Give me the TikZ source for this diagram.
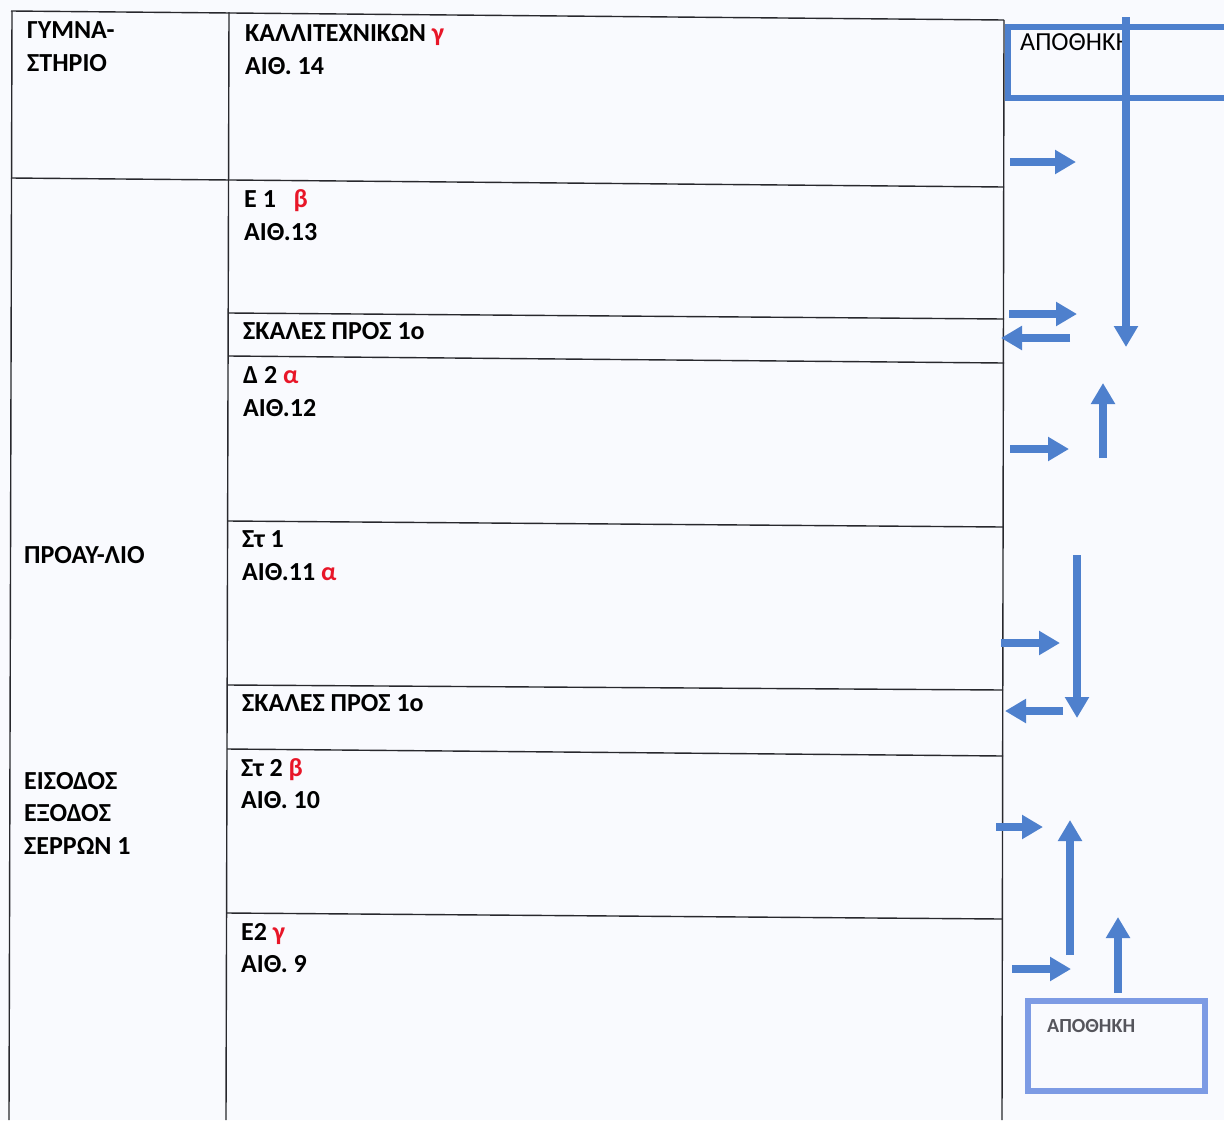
\documentclass[tikz,border=0pt]{standalone}
\usepackage{fontspec}
\setmainfont{Carlito}
\usetikzlibrary{arrows.meta}
\definecolor{arr}{RGB}{78,128,205}
\definecolor{boxb}{RGB}{125,155,228}
\definecolor{redg}{RGB}{232,22,40}
\definecolor{paper}{RGB}{249,250,254}
\definecolor{ink}{RGB}{40,40,45}
\definecolor{grayt}{RGB}{85,85,92}
\begin{document}
\begin{tikzpicture}[x=1pt,y=-1pt,
  grid/.style={draw=ink,line width=1.4pt},
  lbl/.style={anchor=base west,inner sep=0pt,font=\fontsize{26}{30}\selectfont\bfseries,text=black},
  blk/.style={draw=arr,line width=7.5pt,-{Triangle[width=23pt,length=21pt]}},
]
\fill[paper] (0,0) rectangle (1224,1120);
\useasboundingbox (0,0) rectangle (1224,1120);

% table grid
\draw[grid] (11,11) -- (1004,20);
\draw[grid] (12,11) -- (9,1120);
\draw[grid] (229,12) -- (226,1120);
\draw[grid] (1004,20) -- (1002,1120);
\draw[grid] (11,178) -- (1004,187);
\draw[grid] (229,313) -- (1004,319);
\draw[grid] (229,356) -- (1004,363);
\draw[grid] (228,521) -- (1003,527);
\draw[grid] (228,685) -- (1003,690);
\draw[grid] (227,749) -- (1003,756);
\draw[grid] (227,913) -- (1002,919);

% labels
\node[lbl] (g1) at (27,38) {ΓΥΜΝΑ-};
\node[lbl] (g2) at (27,71) {ΣΤΗΡΙΟ};
\node[lbl] (k1) at (245,41) {ΚΑΛΛΙΤΕΧΝΙΚΩΝ {\color{redg}γ}};
\node[lbl] (k2) at (245,74) {ΑΙΘ. 14};
\node[lbl] (e1) at (244,207) {Ε 1\ \ \ {\color{redg}β}};
\node[lbl] (e2) at (244,240) {ΑΙΘ.13};
\node[lbl] (s1) at (243,339) {ΣΚΑΛΕΣ ΠΡΟΣ 1ο};
\node[lbl] (d1) at (243,383) {Δ 2 {\color{redg}α}};
\node[lbl] (d2) at (243,416) {ΑΙΘ.12};
\node[lbl] (st1) at (242,547) {Στ 1};
\node[lbl] (st2) at (242,580) {ΑΙΘ.11 {\color{redg}α}};
\node[lbl] (s2) at (242,711) {ΣΚΑΛΕΣ ΠΡΟΣ 1ο};
\node[lbl] (sb1) at (241,776) {Στ 2 {\color{redg}β}};
\node[lbl] (sb2) at (241,808) {ΑΙΘ. 10};
\node[lbl] (eb1) at (241,940) {Ε2 {\color{redg}γ}};
\node[lbl] (eb2) at (241,972) {ΑΙΘ. 9};
\node[lbl] (p1) at (24,563) {ΠΡΟΑΥ-ΛΙΟ};
\node[lbl] (x1) at (24,789) {ΕΙΣΟΔΟΣ};
\node[lbl] (x2) at (24,821) {ΕΞΟΔΟΣ};
\node[lbl] (x3) at (24,854) {ΣΕΡΡΩΝ 1};

% top store room
\draw[arr,line width=6.5pt,line join=miter] (1224,27) -- (1008,27) -- (1008,98) -- (1224,98);
\node[anchor=base west,inner sep=0pt,font=\fontsize{26}{30}\selectfont] (ap1) at (1020,50) {ΑΠΟΘΗΚΗ};

% bottom store room
\draw[boxb,line width=6pt] (1028,1001) rectangle (1205,1091);
\node[anchor=base west,inner sep=0pt,font=\fontsize{20}{24}\selectfont\bfseries,text=grayt] (ap2) at (1047,1032) {ΑΠΟΘΗΚΗ};

% arrow coordinates
\coordinate (v1s) at (1126,17);  \coordinate (v1e) at (1126,347);
\coordinate (h1s) at (1010,162); \coordinate (h1e) at (1076,162);
\coordinate (h2s) at (1009,314); \coordinate (h2e) at (1077,314);
\coordinate (h3s) at (1070,338); \coordinate (h3e) at (1001,338);
\coordinate (u1s) at (1103,458); \coordinate (u1e) at (1103,383);
\coordinate (h4s) at (1010,449); \coordinate (h4e) at (1069,449);
\coordinate (d1s) at (1077,555); \coordinate (d1e) at (1077,718);
\coordinate (h5s) at (1001,643); \coordinate (h5e) at (1060,643);
\coordinate (h6s) at (1063,711); \coordinate (h6e) at (1005,711);
\coordinate (h7s) at (996,827);  \coordinate (h7e) at (1043,827);
\coordinate (u2s) at (1070,955); \coordinate (u2e) at (1070,820);
\coordinate (h8s) at (1012,969); \coordinate (h8e) at (1071,969);
\coordinate (u3s) at (1118,993); \coordinate (u3e) at (1118,917);

\draw[blk] (v1s) -- (v1e);
\draw[blk] (h1s) -- (h1e);
\draw[blk] (h2s) -- (h2e);
\draw[blk] (h3s) -- (h3e);
\draw[blk] (u1s) -- (u1e);
\draw[blk] (h4s) -- (h4e);
\draw[blk] (d1s) -- (d1e);
\draw[blk] (h5s) -- (h5e);
\draw[blk] (h6s) -- (h6e);
\draw[blk] (h7s) -- (h7e);
\draw[blk] (u2s) -- (u2e);
\draw[blk] (h8s) -- (h8e);
\draw[blk] (u3s) -- (u3e);
\end{tikzpicture}
\end{document}
